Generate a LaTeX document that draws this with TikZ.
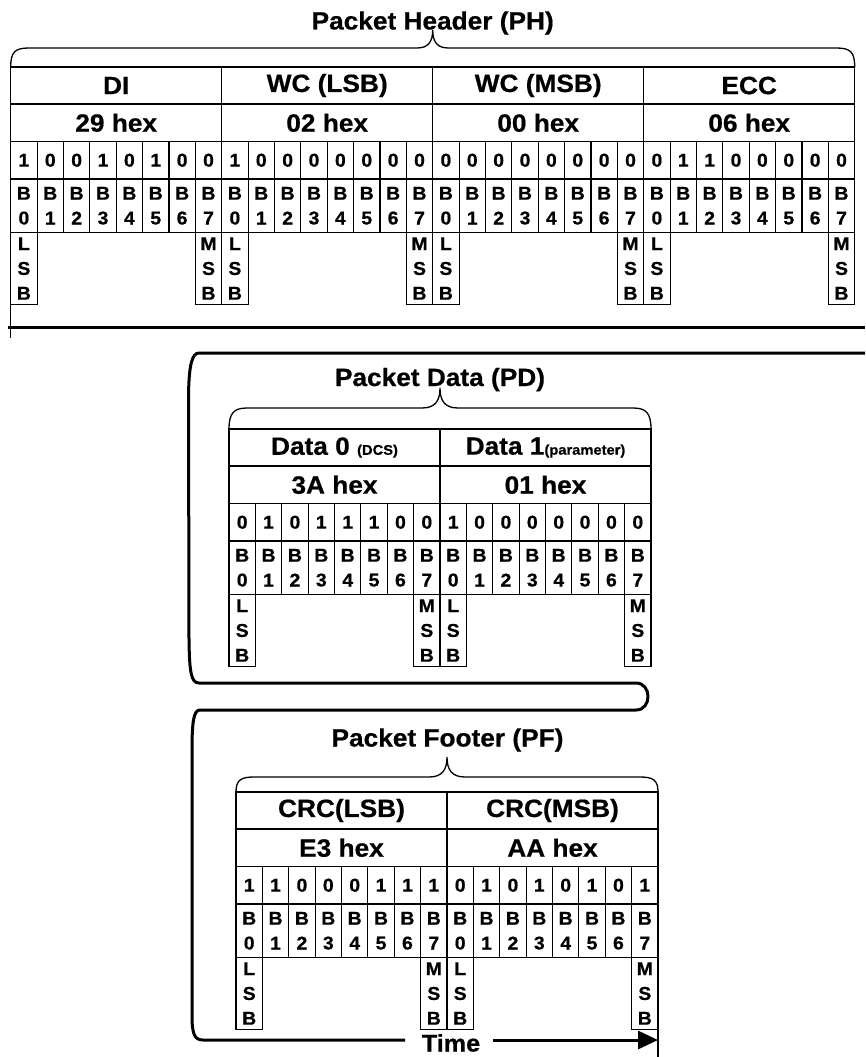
\documentclass[tikz,border=0pt]{standalone}
\usepackage{fontspec}
\setmainfont[FakeStretch=1.05,FakeBold=0.6]{Liberation Sans}
\usetikzlibrary{arrows.meta}
\newcommand{\bigf}{\fontsize{25}{27}\selectfont\bfseries}
\newcommand{\timef}{\fontsize{24}{26}\selectfont\bfseries}
\newcommand{\bitf}{\fontsize{18.5}{24.8}\selectfont\bfseries}
\newcommand{\smallf}{\fontsize{14}{15}\selectfont\bfseries}
\tikzset{
  cell/.style={draw, line width=1.1pt, rectangle, inner sep=0pt, outer sep=0pt, anchor=north west, align=center},
  hdcell/.style={cell, minimum width=211pt, minimum height=37pt, font=\bigf},
  hexcell/.style={cell, minimum width=211pt, minimum height=37.5pt, font=\bigf},
  bitcell/.style={cell, minimum width=26.375pt, minimum height=37.5pt, font=\bitf},
  bcell/.style={cell, minimum width=26.375pt, minimum height=53.5pt, font=\bitf},
  sbcell/.style={cell, minimum width=26.375pt, minimum height=72pt, font=\bitf},
  titletext/.style={font=\bigf, anchor=base, inner sep=0pt},
  bracepath/.style={line width=1.3pt, line cap=round},
  bandline/.style={line width=3pt},
  gridline/.style={line width=1.1pt},
}
\newcommand{\PktSection}[6]{%
  \foreach \h [count=\i from 0] in {#4} {\node[hdcell] (#1h\i) at ({#2+\i*211},{#3}) {\h};}
  \foreach \h [count=\i from 0] in {#5} {\node[hexcell] (#1x\i) at ({#2+\i*211},{#3+37}) {\h};}
  \foreach \b [count=\k from 0] in {#6} {
    \pgfmathtruncatemacro{\bi}{mod(\k,8)}
    \node[bitcell] (#1b\k) at ({#2+\k*26.375},{#3+74.5}) {\b};
    \node[bcell] (#1n\k) at ({#2+\k*26.375},{#3+112}) {B\\\bi};
    \ifnum\bi=0 \node[sbcell] (#1s\k) at ({#2+\k*26.375},{#3+165.5}) {L\\S\\B};\fi
    \ifnum\bi=7 \node[sbcell] (#1s\k) at ({#2+\k*26.375},{#3+165.5}) {M\\S\\B};\fi
  }%
}
\begin{document}
\begin{tikzpicture}[x=1pt,y=-1pt]
\useasboundingbox (0,0) rectangle (865,1057);

% ---------- Packet Header ----------
\PktSection{PH}{10.7}{67}{DI, WC (LSB), WC (MSB), ECC}{29 hex, 02 hex, 00 hex, 06 hex}
  {1,0,0,1,0,1,0,0, 1,0,0,0,0,0,0,0, 0,0,0,0,0,0,0,0, 0,1,1,0,0,0,0,0}
\node[titletext] (PHt) at (432.7,29.5) {Packet Header (PH)};
\draw[bracepath] (PHh0.north west) .. controls (10.7,52) and (15,48) .. (29,48) -- (417,48)
  .. controls (428,48) and (432.7,42) .. (432.7,30)
  .. controls (432.7,42) and (437.4,48) .. (448.4,48) -- (836.4,48)
  .. controls (850.4,48) and (854.7,52) .. (PHh3.north east);
\coordinate (PHend) at (10.7,338);
\draw[gridline] (PHs0.south west) -- (PHend);
\coordinate (PHa) at (8,327);
\coordinate (PHb) at (865,327);
\draw[bandline] (PHa) -- (PHb);

% ---------- Packet Data ----------
\PktSection{PD}{229}{429}{{Data 0 {\smallf(DCS)}}, {Data 1{\smallf(parameter)}}}{3A hex, 01 hex}
  {0,1,0,1,1,1,0,0, 1,0,0,0,0,0,0,0}
\node[titletext] (PDt) at (440,386) {Packet Data (PD)};
\draw[bracepath] (PDh0.north west) .. controls (229,413) and (234,408) .. (247,408) -- (422,408)
  .. controls (435,408) and (440,401) .. (440,388)
  .. controls (440,401) and (445,408) .. (458,408) -- (633,408)
  .. controls (646,408) and (651,413) .. (PDh1.north east);

% ---------- Packet Footer ----------
\PktSection{PF}{236}{792}{CRC(LSB), CRC(MSB)}{E3 hex, AA hex}
  {1,1,0,0,0,1,1,1, 0,1,0,1,0,1,0,1}
\node[titletext] (PFt) at (447.5,746.5) {Packet Footer (PF)};
\draw[bracepath] (PFh0.north west) .. controls (236,780) and (241,777) .. (254,777) -- (429,777)
  .. controls (442,777) and (447,770) .. (447,757)
  .. controls (447,770) and (452,777) .. (465,777) -- (640,777)
  .. controls (653,777) and (658,780) .. (PFh1.north east);

% ---------- wrap-around band and time axis ----------
\coordinate (Mstart) at (865,353);
\coordinate (Tleft) at (405,1040);
\draw[bandline, line join=round] (Mstart) -- (199,353)
  .. controls (192,353) and (189,365) .. (188.5,395) -- (189,640)
  .. controls (189.5,672) and (191,683) .. (199,683) -- (636,683)
  .. controls (652,683) and (652,710) .. (636,710) -- (200,710)
  .. controls (194,710) and (192,720) .. (192,750) -- (192,1015)
  .. controls (192,1033) and (194,1040) .. (203,1040) -- (Tleft);
\node[font=\timef, anchor=base, inner sep=0pt] (time) at (451,1051.5) {Time};
\coordinate (Tright) at (493,1040);
\coordinate (Tend) at (658,1040);
\draw[bandline, -{Triangle[length=20pt,width=18pt]}] (Tright) -- (Tend);
\coordinate (PFend) at (658,1057);
\draw[gridline] (PFs15.south east) -- (PFend);
\end{tikzpicture}
\end{document}
